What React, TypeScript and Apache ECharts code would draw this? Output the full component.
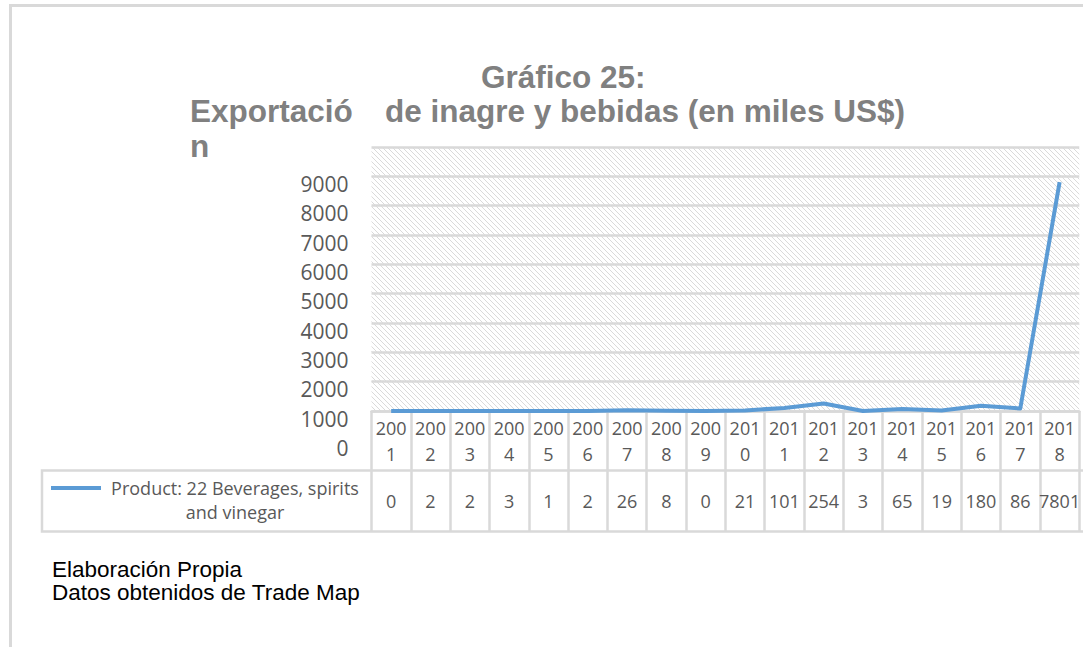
import React, { useEffect, useRef } from 'react';
import * as echarts from 'echarts';

const years = ['2001','2002','2003','2004','2005','2006','2007','2008','2009','2010','2011','2012','2013','2014','2015','2016','2017','2018'];
const values = [0, 2, 2, 3, 1, 2, 26, 8, 0, 21, 101, 254, 3, 65, 19, 180, 86, 7801];
const yMin = 0;
const yMax = 9000;
const yStep = 1000;
const seriesName = 'Product: 22 Beverages, spirits and vinegar';
const legendLines = ['Product: 22 Beverages, spirits', 'and vinegar'];
const titleTop = 'Gráfico 25:';
const titleLeftPart = 'Exportació';
const titleRightPart = 'de inagre y bebidas (en miles US$)';
const titleWrap = 'n';
const footerLines = ['Elaboración Propia', 'Datos obtenidos de Trade Map'];

const GRAY = '#d9d9d9';
const TXT = '#595959';
const TFONT = 'Open Sans';

function hatch(): string {
  const c = document.createElement('canvas');
  c.width = 5; c.height = 5;
  const ctx = c.getContext('2d')!;
  ctx.fillStyle = '#ffffff';
  ctx.fillRect(0, 0, 5, 5);
  ctx.fillStyle = '#dadada';
  for (let i = 0; i < 5; i++) ctx.fillRect(i, i, 1, 1);
  return c.toDataURL();
}

export default function App() {
  const ref = useRef<HTMLDivElement>(null);
  useEffect(() => {
    if (!ref.current) return;
    const chart = echarts.init(ref.current, null, { renderer: 'svg' });
    const colW = 39.7;
    const plotLeft = 371.5;
    const plotW = colW * years.length;
    const titleStyle = { fontFamily: 'Liberation Sans', fontWeight: 'bold' as const, fontSize: 31.5, color: '#808080', lineHeight: 30 };
    chart.setOption({
      animation: false,
      backgroundColor: '#ffffff',
      title: [
        { text: titleTop, left: 481, top: 62, padding: 0, textStyle: titleStyle },
        { text: titleLeftPart, left: 190, top: 96, padding: 0, textStyle: titleStyle },
        { text: titleRightPart, left: 385, top: 96, padding: 0, textStyle: titleStyle },
        { text: titleWrap, left: 190, top: 131, padding: 0, textStyle: titleStyle },
      ],
      legend: {
        show: true,
        left: 51,
        top: 479,
        padding: 0,
        icon: 'rect',
        itemWidth: 50,
        itemHeight: 4,
        data: [seriesName],
        formatter: () => legendLines.map((l) => `{a|${l}}`).join('\n'),
        textStyle: {
          padding: [24, 0, 0, 0],
          rich: { a: { width: 258, align: 'center', fontSize: 18, lineHeight: 24, color: TXT, fontFamily: TFONT } },
        },
      },
      grid: [
        {
          left: plotLeft, top: 147, width: plotW, height: 264,
          show: true, borderWidth: 0,
          backgroundColor: { image: hatch(), repeat: 'repeat' } as any,
        },
        { left: plotLeft, top: 184, width: plotW, height: 264, show: false },
      ],
      xAxis: [
        {
          type: 'category', gridIndex: 0, data: years, boundaryGap: true, position: 'bottom',
          axisLine: { show: true, lineStyle: { color: GRAY, width: 2.5 } },
          axisTick: { show: true, interval: 0, length: 120, lineStyle: { color: GRAY, width: 2.5 } },
          axisLabel: {
            interval: 0, margin: 4, color: TXT, fontFamily: TFONT, fontSize: 18, lineHeight: 26,
            formatter: (v: string) => v.slice(0, 3) + '\n' + v.slice(3),
          },
          splitLine: { show: false },
        },
        {
          type: 'category', gridIndex: 0, data: years, boundaryGap: true, position: 'bottom', offset: 0,
          axisLine: { show: false }, axisTick: { show: false },
          axisLabel: {
            interval: 0, margin: 77, color: TXT, fontFamily: TFONT, fontSize: 18, lineHeight: 26,
            formatter: (_v: string, i: number) => String(values[i]),
          },
        },
        {
          type: 'category', gridIndex: 1, data: years, show: false,
        },
      ],
      yAxis: [
        {
          type: 'value', gridIndex: 0, min: yMin, max: yMax, interval: yStep,
          axisLine: { show: false }, axisTick: { show: false }, axisLabel: { show: false },
          splitLine: { show: true, lineStyle: { color: GRAY, width: 2.5 } },
        },
        {
          type: 'value', gridIndex: 1, min: yMin, max: yMax, interval: yStep,
          axisLine: { show: false }, axisTick: { show: false }, splitLine: { show: false },
          axisLabel: { show: true, margin: 23, color: TXT, fontFamily: TFONT, fontSize: 21, formatter: (v: number) => String(v) },
        },
      ],
      series: [
        {
          name: seriesName, type: 'line', xAxisIndex: 0, yAxisIndex: 0, data: values,
          showSymbol: false, symbol: 'none',
          lineStyle: { color: '#5b9bd5', width: 4, join: 'round' },
          itemStyle: { color: '#5b9bd5' },
        },
      ],
      graphic: [
        { type: 'rect', shape: { x: 10.5, y: 5.5, width: 2000, height: 2000 }, style: { fill: 'none', stroke: GRAY, lineWidth: 3 }, silent: true },
        { type: 'rect', shape: { x: 42, y: 470.5, width: 1100, height: 61 }, style: { fill: 'none', stroke: GRAY, lineWidth: 2.5 }, silent: true },
        { type: 'text', x: 52, y: 558, style: { text: footerLines.join('\n'), fill: '#000000', font: '22.5px "Liberation Sans"', lineHeight: 23 }, silent: true },
      ],
    });
    return () => chart.dispose();
  }, []);
  return <div ref={ref} style={{ position: 'absolute', left: 0, top: 0, width: 1083, height: 647 }} />;
}
